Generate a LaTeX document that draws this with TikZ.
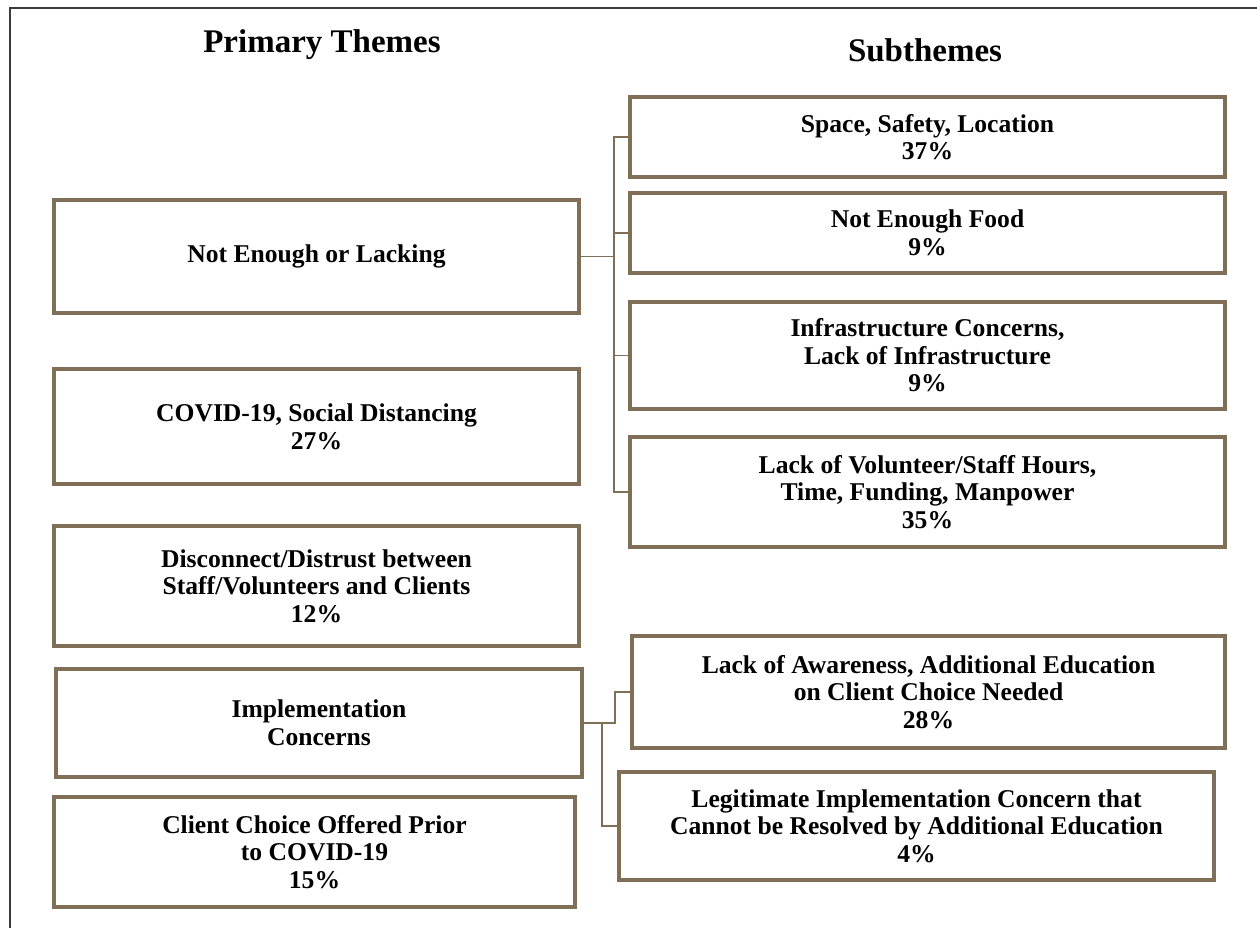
\documentclass[tikz,border=0pt]{standalone}
\usepackage{fontspec}
\setmainfont{Liberation Serif}
\usetikzlibrary{positioning}
\definecolor{themebrown}{RGB}{126,111,86}
\definecolor{framegray}{RGB}{60,60,60}

\begin{document}
\begin{tikzpicture}[
    x=0.5pt, y=-0.5pt,
    box/.style={draw=themebrown, line width=2pt, align=center, inner sep=2pt,
        font=\bfseries\fontsize{12.8}{13.8}\selectfont},
    head/.style={font=\bfseries\fontsize{16.5}{18}\selectfont},
    link/.style={draw=themebrown, line width=0.8pt}
]
\useasboundingbox (0,0) rectangle (1257,928);
% Outer frame
\draw[framegray, line width=1pt] (10,928) -- (10,8) -- (1257,8);

% Headings
\node[head] (primhead) at (322,45) {Primary Themes};
\node[head] (subhead) at (925,50) {Subthemes};

% Primary themes
\node[box, minimum width=262.5pt, minimum height=56.5pt] (lack) at (316.5,256.5) {\raisebox{-2pt}{Not Enough or Lacking}};
\node[box, minimum width=262.5pt, minimum height=57.5pt] (covid) at (316.5,426.5) {COVID-19, Social Distancing\\27\%};
\node[box, minimum width=262.5pt, minimum height=60pt] (discon) at (316.5,586) {Disconnect/Distrust between\\Staff/Volunteers and Clients\\12\%};
\node[box, minimum width=263pt, minimum height=54pt] (impl) at (319,723) {Implementation\\Concerns};
\node[box, minimum width=260.5pt, minimum height=55pt] (prior) at (314.5,852) {Client Choice Offered Prior\\to COVID-19\\15\%};

% Subthemes
\node[box, minimum width=297.5pt, minimum height=40pt] (space) at (927.5,137) {Space, Safety, Location\\37\%};
\node[box, minimum width=297.5pt, minimum height=40pt] (food) at (927.5,233) {Not Enough Food\\9\%};
\node[box, minimum width=297.5pt, minimum height=53.5pt] (infra) at (927.5,355.5) {Infrastructure Concerns,\\Lack of Infrastructure\\9\%};
\node[box, minimum width=297.5pt, minimum height=55pt] (staff) at (927.5,492) {Lack of Volunteer/Staff Hours,\\Time, Funding, Manpower\\35\%};
\node[box, minimum width=296.5pt, minimum height=56pt] (aware) at (928.5,692) {Lack of Awareness, Additional Education\\on Client Choice Needed\\28\%};
\node[box, minimum width=297.5pt, minimum height=54pt] (legit) at (916.5,826) {Legitimate Implementation Concern that\\Cannot be Resolved by Additional Education\\4\%};

% Connectors
\coordinate (jlack) at (614,256.5);
\draw[link] (lack.east) -- (jlack);
\foreach \n in {space,food,infra,staff}
    \draw[link] (jlack) |- (\n.west);

\coordinate (jimpl) at (602,723);
\coordinate (jaware) at (615,723);
\draw[link] (impl.east) -- (jaware) |- (aware.west);
\draw[link] (jimpl) |- (legit.west);
\end{tikzpicture}
\end{document}
